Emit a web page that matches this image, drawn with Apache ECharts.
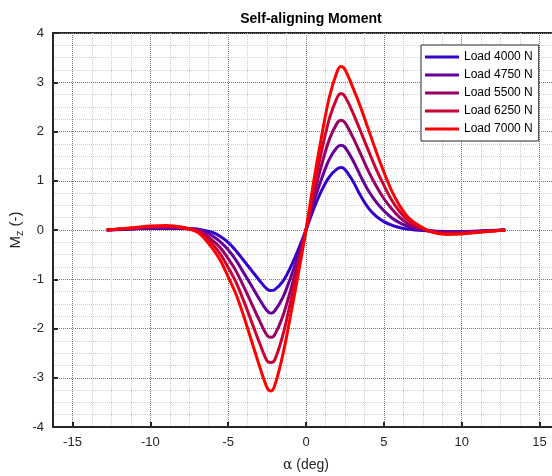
<!DOCTYPE html>
<html>
<head>
<meta charset="utf-8">
<script src="https://cdn.jsdelivr.net/npm/echarts@6/dist/echarts.min.js"></script>
<style>
html, body { margin: 0; padding: 0; background: #fff; }
#chart { width: 552px; height: 476px; }
</style>
</head>
<body>
<div id="chart"></div>
<script>
// slip angle (deg)
var alphaDeg = [-12.8, -11, -10, -9, -8, -7, -6.5, -6, -5.5, -5, -4.5, -4, -3.5, -3, -2.5, -2.25, -2, -1.5, -1, -0.5, 0,
	0.5, 1, 1.5, 2, 2.25, 2.5, 3, 3.5, 4, 4.5, 5, 5.5, 6, 6.5, 7, 8, 9, 10, 11, 12.8];

// self-aligning moment per load
var mz4000 = [0, 0.02, 0.03, 0.03, 0.03, 0.02, -0.01, -0.05, -0.13, -0.25, -0.42, -0.62, -0.82, -1.02, -1.2, -1.23, -1.21, -1.05, -0.76, -0.4, 0,
	0.43, 0.8, 1.08, 1.24, 1.27, 1.23, 1.0, 0.7, 0.45, 0.28, 0.17, 0.1, 0.05, 0.02, 0, -0.02, -0.03, -0.03, -0.02, 0];
var mz4750 = [0, 0.03, 0.04, 0.04, 0.04, 0.01, -0.04, -0.12, -0.24, -0.4, -0.61, -0.87, -1.13, -1.4, -1.64, -1.69, -1.64, -1.38, -0.98, -0.51, 0,
	0.56, 1.04, 1.44, 1.68, 1.72, 1.68, 1.42, 1.1, 0.8, 0.57, 0.39, 0.25, 0.15, 0.08, 0.03, -0.02, -0.04, -0.04, -0.03, 0];
var mz5500 = [0, 0.03, 0.05, 0.06, 0.04, -0.01, -0.09, -0.21, -0.36, -0.58, -0.83, -1.15, -1.49, -1.83, -2.14, -2.18, -2.12, -1.76, -1.23, -0.64, 0,
	0.7, 1.32, 1.84, 2.17, 2.23, 2.18, 1.89, 1.55, 1.2, 0.9, 0.64, 0.43, 0.26, 0.14, 0.07, -0.02, -0.06, -0.05, -0.03, 0];
var mz6250 = [0, 0.04, 0.07, 0.07, 0.05, -0.02, -0.13, -0.29, -0.49, -0.76, -1.06, -1.44, -1.86, -2.28, -2.66, -2.69, -2.63, -2.15, -1.48, -0.77, 0,
	0.85, 1.6, 2.26, 2.69, 2.77, 2.71, 2.39, 2.01, 1.62, 1.24, 0.91, 0.61, 0.38, 0.21, 0.1, -0.03, -0.07, -0.07, -0.04, 0];
var mz7000 = [0, 0.05, 0.08, 0.09, 0.06, -0.04, -0.18, -0.38, -0.62, -0.95, -1.3, -1.75, -2.25, -2.75, -3.2, -3.27, -3.15, -2.55, -1.75, -0.9, 0,
	1.0, 1.9, 2.7, 3.22, 3.32, 3.26, 2.9, 2.5, 2.05, 1.6, 1.18, 0.8, 0.5, 0.28, 0.14, -0.03, -0.09, -0.08, -0.05, 0];

var loadNames = ['Load 4000 N', 'Load 4750 N', 'Load 5500 N', 'Load 6250 N', 'Load 7000 N'];
var loadColors = ['#3300cc', '#660099', '#990066', '#cc0033', '#ff0000'];
var xTicks = [-15, -10, -5, 0, 5, 10, 15];
var yTicks = [-4, -3, -2, -1, 0, 1, 2, 3, 4];

var mzAll = [mz4000, mz4750, mz5500, mz6250, mz7000];
var font = '"Liberation Sans", Arial, Helvetica, sans-serif';
var ink = '#262626';
var majorGrid = '#7a7a7a';
var minorGrid = '#cdcdcd';
var xMin = -16.25, xMax = 16.25, xStep = 1.25;
var yMin = -4, yMax = 4, yStep = 0.25;

function pairs(ys) {
	return alphaDeg.map(function(a, i) { return [a, ys[i]]; });
}

var series = loadNames.map(function(name, k) {
	return {
		name: name,
		type: 'line',
		xAxisIndex: 0,
		yAxisIndex: 0,
		data: pairs(mzAll[k]),
		showSymbol: false,
		smooth: 0.35,
		lineStyle: { width: 3, color: loadColors[k] },
		itemStyle: { color: loadColors[k] }
	};
});

var chart = echarts.init(document.getElementById('chart'));
chart.setOption({
	animation: false,
	textStyle: { fontFamily: font },
	title: {
		text: 'Self-aligning Moment',
		left: 306,
		top: 7,
		textAlign: 'center',
		textStyle: { fontSize: 14, fontWeight: 'bold', color: '#000', fontFamily: font }
	},
	grid: {
		left: 53,
		top: 33,
		width: 506,
		height: 394,
		show: true,
		borderColor: ink,
		borderWidth: 2,
		backgroundColor: '#fff',
		outerBoundsMode: 'none'
	},
	legend: {
		data: loadNames,
		orient: 'vertical',
		left: 421,
		top: 45,
		padding: [5, 6, 5, 4],
		itemWidth: 34,
		itemHeight: 3,
		itemGap: 4,
		icon: 'rect',
		backgroundColor: '#fff',
		borderColor: ink,
		borderWidth: 1,
		borderRadius: 0,
		textStyle: { fontSize: 12, color: '#000', fontFamily: font, lineHeight: 14 }
	},
	xAxis: [{
		// labels + major ticks
		type: 'value',
		min: xMin,
		max: xMax,
		interval: xStep,
		position: 'bottom',
		name: '{g|α} (deg)',
		nameLocation: 'middle',
		nameGap: 31,
		nameTextStyle: {
			fontSize: 14, color: ink, fontFamily: font,
			rich: { g: { fontSize: 14, fontFamily: '"DejaVu Serif", "Liberation Serif", serif', color: ink } }
		},
		axisLine: { show: true, onZero: false, lineStyle: { color: ink, width: 2 } },
		axisTick: { show: true, inside: true, length: 5, customValues: xTicks, lineStyle: { color: ink, width: 2 } },
		axisLabel: {
			color: ink, fontSize: 13, margin: 9,
			formatter: function(v) { return xTicks.indexOf(v) >= 0 ? String(v) : ''; }
		},
		splitLine: { show: false }
	}, {
		// grid lines (major + minor)
		type: 'value',
		min: xMin,
		max: xMax,
		interval: xStep,
		position: 'top',
		axisLine: { show: false, onZero: false },
		axisTick: { show: false },
		axisLabel: { show: false },
		splitLine: {
			show: true,
			lineStyle: { type: 'dotted', width: 1, color: [minorGrid, majorGrid, minorGrid, minorGrid] }
		}
	}],
	yAxis: [{
		type: 'value',
		min: yMin,
		max: yMax,
		interval: yStep,
		position: 'left',
		name: '{m|M}{s|z}{m| (-)}',
		nameLocation: 'middle',
		nameGap: 28,
		nameMoveOverlap: false,
		nameRotate: 90,
		nameTextStyle: {
			color: ink, fontFamily: font,
			rich: {
				m: { fontSize: 15, color: ink, fontFamily: font },
				s: { fontSize: 11, color: ink, fontFamily: font, padding: [8, 0, 0, 0] }
			}
		},
		axisLine: { show: true, onZero: false, lineStyle: { color: ink, width: 2 } },
		axisTick: { show: true, inside: true, length: 5, customValues: yTicks, lineStyle: { color: ink, width: 2 } },
		axisLabel: {
			color: ink, fontSize: 13, margin: 9,
			formatter: function(v) { return Math.abs(v - Math.round(v)) < 1e-9 ? String(Math.round(v)) : ''; }
		},
		splitLine: { show: false }
	}, {
		type: 'value',
		min: yMin,
		max: yMax,
		interval: yStep,
		position: 'right',
		axisLine: { show: false, onZero: false },
		axisTick: { show: false },
		axisLabel: { show: false },
		splitLine: {
			show: true,
			lineStyle: { type: 'dotted', width: 1, color: [majorGrid, minorGrid, minorGrid, minorGrid] }
		}
	}],
	series: series
});
</script>
</body>
</html>
